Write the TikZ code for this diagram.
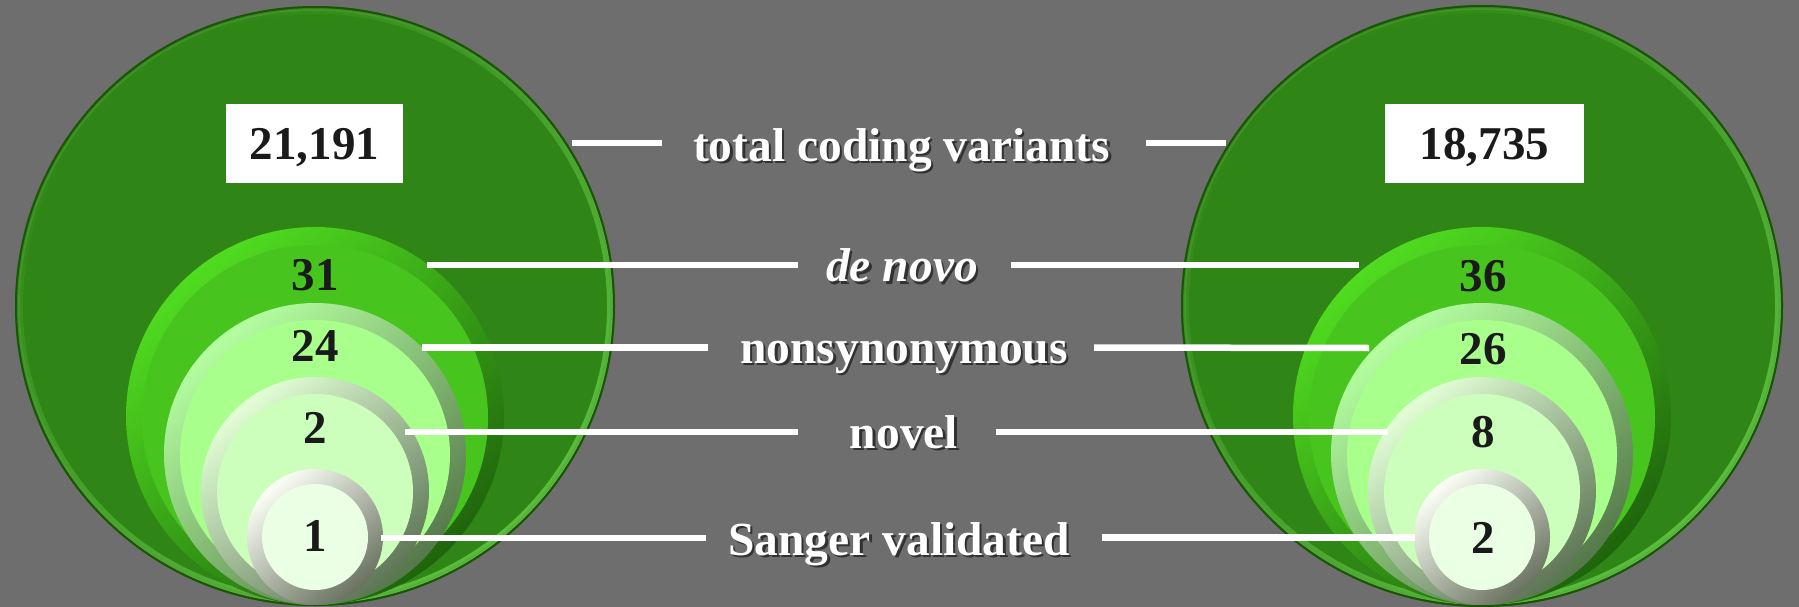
\documentclass[tikz,border=0pt]{standalone}
\usepackage{fontspec}
\setmainfont{Liberation Serif}
\definecolor{bg}{HTML}{6E6E6E}
\definecolor{bigg}{HTML}{2F8515}
\definecolor{bigedge}{HTML}{1C520A}
\definecolor{bigrimA}{HTML}{2F8515}
\definecolor{bigrimB}{HTML}{5ABE3C}
\definecolor{dnA}{HTML}{50DC20}
\definecolor{dnB}{HTML}{1F640C}
\definecolor{dnfill}{HTML}{48C41E}
\definecolor{nsA}{HTML}{B4FFA0}
\definecolor{nsB}{HTML}{55784A}
\definecolor{nsfill}{HTML}{A8FF8C}
\definecolor{nvA}{HTML}{E2FFD6}
\definecolor{nvB}{HTML}{5E7656}
\definecolor{nvfill}{HTML}{CCFFBB}
\definecolor{sgA}{HTML}{FCFFF6}
\definecolor{sgB}{HTML}{68725F}
\definecolor{sgfill}{HTML}{EAFFE4}
\definecolor{numc}{HTML}{1A1A1A}
\newcommand{\nestset}[2]{%
  \begin{scope}[shift={(#1,0)}]
    \fill[bigg] (0,306) circle[radius=#2];
    \shade[even odd rule, top color=bigrimA, bottom color=bigrimB, shading angle=40]
      (0,306) circle[radius=#2-2pt] (0,306) circle[radius=#2-8pt];
    \draw[bigg!80!white, line width=1.5pt, opacity=0.5] (0,306) circle[radius=#2-4pt];
    \draw[bigedge, line width=2pt] (0,306) circle[radius=#2-1pt];
    \shade[top color=dnA, bottom color=dnB, shading angle=40] (0,416) circle[radius=189pt];
    \fill[dnfill] (0,418) circle[radius=173pt];
    \shade[top color=nsA, bottom color=nsB, shading angle=40] (0,454) circle[radius=151pt];
    \fill[nsfill] (0,455) circle[radius=135pt];
    \shade[top color=nvA, bottom color=nvB, shading angle=40] (0,491) circle[radius=114pt];
    \fill[nvfill] (0,492) circle[radius=98pt];
    \shade[top color=sgA, bottom color=sgB, shading angle=40] (0,537) circle[radius=68pt];
    \fill[sgfill] (0,537) circle[radius=53pt];
  \end{scope}}
\begin{document}
\begin{tikzpicture}[x=1pt,y=-1pt,
  conn/.style={draw=white, line width=6.5pt},
  lbl/.style={text=white, font=\fontsize{47.5}{50}\selectfont\bfseries, anchor=base, inner sep=0pt},
  shd/.style={text=black, opacity=0.55, font=\fontsize{47.5}{50}\selectfont\bfseries, anchor=base, inner sep=0pt},
  num/.style={text=numc, font=\fontsize{47}{50}\selectfont\bfseries, anchor=base, inner sep=0pt},
  numbox/.style={fill=white, minimum height=78pt, inner sep=0pt, text height=32pt, text depth=0pt,
    text=numc, font=\fontsize{47}{50}\selectfont\bfseries}]
\fill[bg] (0,0) rectangle (1799,607);
\useasboundingbox (0,0) rectangle (1799,607);

\nestset{315}{300pt}
\nestset{1482}{301pt}

% boxes with totals
\node[numbox, minimum width=177pt] (boxL) at (314.5,143.5) {21,191};
\node[numbox, minimum width=199pt] (boxR) at (1484.4,143.5) {18,735};

% numbers left
\node[num] (l1) at (315,290) {31};
\node[num] (l2) at (315,361) {24};
\node[num] (l3) at (315,443) {2};
\node[num] (l4) at (315,551.5) {1};
% numbers right
\node[num] (r1) at (1483,291) {36};
\node[num] (r2) at (1483,364) {26};
\node[num] (r3) at (1483,447) {8};
\node[num] (r4) at (1483,553) {2};

% label shadows
\node[shd] (s1) at (904,163.5) {total coding variants};
\node[shd] (s2) at (904.5,284) {\itshape de novo};
\node[shd] (s3) at (906.5,365.5) {nonsynonymous};
\node[shd] (s4) at (906.5,450.5) {novel};
\node[shd] (s5) at (901.5,557.5) {Sanger validated};
% labels
\node[lbl] (t1) at (901.5,161) {total coding variants};
\node[lbl] (t2) at (902,281.5) {\itshape de novo};
\node[lbl] (t3) at (904,363) {nonsynonymous};
\node[lbl] (t4) at (904,448) {novel};
\node[lbl] (t5) at (899,555) {Sanger validated};

% connector end points
\coordinate (a1) at (572,143);   \coordinate (b1) at (662,143);
\coordinate (c1) at (1146,143);  \coordinate (d1) at (1226,143);
\coordinate (a2) at (427,265);   \coordinate (b2) at (798,265);
\coordinate (c2) at (1011,265);  \coordinate (d2) at (1359,265);
\coordinate (a3) at (422,347.5); \coordinate (b3) at (708,347.5);
\coordinate (c3) at (1094,347.5);\coordinate (d3) at (1369,348);
\coordinate (a4) at (405,432);   \coordinate (b4) at (798,432);
\coordinate (c4) at (996,432);   \coordinate (d4) at (1388,432);
\coordinate (a5) at (381,538);   \coordinate (b5) at (706,538);
\coordinate (c5) at (1102,537.5);\coordinate (d5) at (1415,537.5);
\foreach \i in {1,...,5}{
  \draw[conn] (a\i) -- (b\i);
  \draw[conn] (c\i) -- (d\i);
}
\end{tikzpicture}
\end{document}
